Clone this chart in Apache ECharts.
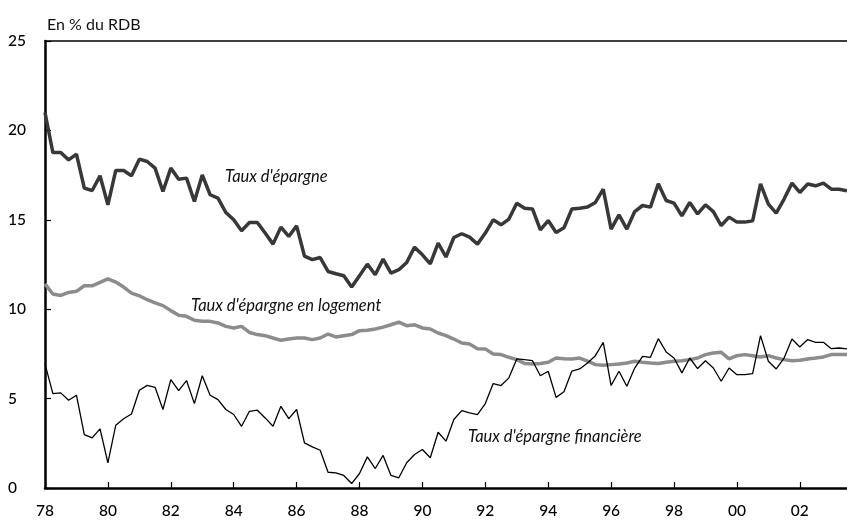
<!DOCTYPE html>
<html>
<head>
<meta charset="utf-8">
<script src="https://cdn.jsdelivr.net/npm/echarts@6/dist/echarts.min.js"></script>
<style>
  html, body { margin: 0; padding: 0; background: #fff; }
  #chart { width: 847px; height: 525px; }
</style>
</head>
<body>
<div id="chart"></div>
<script>
// trimestres 1978T1 .. 2003T3
const firstYear = 1978;
const nbQuarters = 103;

// taux d'épargne (en % du RDB)
const tauxEpargne = [
  21.0, 18.76, 18.76, 18.35, 18.67, 16.77, 16.64, 17.46, 15.84, 17.76,
  17.76, 17.46, 18.39, 18.26, 17.89, 16.58, 17.89, 17.27, 17.33, 16.02,
  17.51, 16.40, 16.21, 15.41, 15.0, 14.39, 14.85, 14.85, 14.26, 13.64,
  14.59, 14.07, 14.66, 12.97, 12.77, 12.89, 12.11, 11.98, 11.87, 11.24,
  11.87, 12.52, 11.93, 12.80, 12.02, 12.21, 12.61, 13.47, 13.04, 12.54,
  13.70, 12.92, 14.01, 14.22, 14.03, 13.64, 14.26, 15.0, 14.72, 15.04,
  15.93, 15.65, 15.61, 14.44, 14.96, 14.29, 14.55, 15.60, 15.65, 15.71,
  15.97, 16.71, 14.48, 15.28, 14.48, 15.46, 15.80, 15.71, 17.01, 16.08,
  15.93, 15.22, 15.97, 15.33, 15.84, 15.46, 14.68, 15.15, 14.87, 14.87,
  14.94, 17.01, 15.88, 15.37, 16.16, 17.05, 16.53, 17.0, 16.90, 17.05,
  16.71, 16.71, 16.62
];

// taux d'épargne en logement
const tauxLogement = [
  11.42, 10.85, 10.77, 10.94, 11.0, 11.31, 11.31, 11.50, 11.70, 11.52,
  11.24, 10.90, 10.75, 10.53, 10.35, 10.20, 9.92, 9.66, 9.60, 9.38,
  9.32, 9.32, 9.23, 9.04, 8.95, 9.04, 8.70, 8.58, 8.52, 8.39,
  8.26, 8.33, 8.39, 8.39, 8.30, 8.39, 8.61, 8.45, 8.52, 8.58,
  8.80, 8.82, 8.89, 9.00, 9.13, 9.28, 9.08, 9.13, 8.95, 8.89,
  8.67, 8.52, 8.33, 8.11, 8.05, 7.79, 7.78, 7.50, 7.46, 7.31,
  7.18, 6.96, 6.94, 6.96, 7.03, 7.27, 7.23, 7.22, 7.27, 7.09,
  6.90, 6.86, 6.90, 6.94, 6.99, 7.09, 7.03, 6.99, 6.96, 7.03,
  7.09, 7.12, 7.18, 7.27, 7.46, 7.55, 7.59, 7.22, 7.40, 7.46,
  7.40, 7.33, 7.40, 7.27, 7.18, 7.12, 7.14, 7.22, 7.27, 7.33,
  7.46, 7.46, 7.46
];

// taux d'épargne financière
const tauxFinanciere = [
  6.94, 5.28, 5.32, 4.91, 5.19, 2.99, 2.80, 3.31, 1.41, 3.51,
  3.87, 4.14, 5.47, 5.74, 5.63, 4.39, 6.06, 5.45, 6.01, 4.72,
  6.28, 5.19, 4.94, 4.39, 4.11, 3.45, 4.29, 4.35, 3.92, 3.45,
  4.57, 3.88, 4.39, 2.52, 2.30, 2.11, 0.88, 0.85, 0.70, 0.25,
  0.81, 1.74, 1.09, 1.82, 0.70, 0.57, 1.41, 1.87, 2.15, 1.69,
  3.12, 2.62, 3.83, 4.33, 4.20, 4.11, 4.72, 5.84, 5.73, 6.16,
  7.22, 7.18, 7.12, 6.28, 6.53, 5.07, 5.38, 6.53, 6.66, 6.99,
  7.40, 8.15, 5.73, 6.53, 5.69, 6.71, 7.36, 7.31, 8.35, 7.61,
  7.27, 6.44, 7.27, 6.68, 7.12, 6.71, 5.97, 6.71, 6.34, 6.34,
  6.40, 8.52, 7.09, 6.66, 7.27, 8.33, 7.89, 8.30, 8.15, 8.15,
  7.79, 7.83, 7.78
];

const yTicks = [0, 5, 10, 15, 20, 25];

// libellés des trimestres
const quarters = [];
for (let i = 0; i < nbQuarters; i++) {
  quarters.push((firstYear + Math.floor(i / 4)) + 'T' + (i % 4 + 1));
}

const FONT = 'Lato, "DejaVu Sans", sans-serif';

const chart = echarts.init(document.getElementById('chart'));

const option = {
  animation: false,
  backgroundColor: '#fff',
  grid: { left: 45, right: 0, top: 41, bottom: 37 },
  xAxis: [
    {
      type: 'category',
      data: quarters,
      boundaryGap: false,
      axisLine: { lineStyle: { color: '#000', width: 2.5 } },
      axisTick: {
        inside: true, length: 6, interval: (i) => i % 8 === 0,
        lineStyle: { color: '#000', width: 1.2 }
      },
      axisLabel: {
        interval: (i) => i % 8 === 0,
        margin: 15,
        color: '#000',
        fontFamily: FONT,
        fontSize: 15.5,
        fontWeight: 500,
        formatter: (v) => v.slice(2, 4)
      },
      splitLine: { show: false }
    },
    {
      // trait du haut du cadre
      type: 'category',
      data: quarters,
      position: 'top',
      boundaryGap: false,
      axisLine: { lineStyle: { color: '#000', width: 1.5 } },
      axisTick: { show: false },
      axisLabel: { show: false }
    }
  ],
  yAxis: {
    type: 'value',
    min: 0,
    max: 25,
    interval: 5,
    axisLine: { show: true, lineStyle: { color: '#000', width: 2.5 } },
    axisTick: { show: true, inside: true, length: 6, lineStyle: { color: '#000', width: 1.2 } },
    axisLabel: {
      align: 'left',
      margin: 37,
      color: '#000',
      fontFamily: FONT,
      fontSize: 15.5,
      fontWeight: 500,
      formatter: (v) => yTicks.includes(v) ? String(v) : ''
    },
    splitLine: { show: false }
  },
  series: [
    {
      name: "Taux d'épargne en logement",
      type: 'line',
      data: tauxLogement,
      symbol: 'none',
      lineStyle: { color: '#8c8c8c', width: 3.5 }
    },
    {
      name: "Taux d'épargne financière",
      type: 'line',
      data: tauxFinanciere,
      symbol: 'none',
      lineStyle: { color: '#000', width: 1.3 }
    },
    {
      name: "Taux d'épargne",
      type: 'line',
      data: tauxEpargne,
      symbol: 'none',
      lineStyle: { color: '#383838', width: 3.5 }
    }
  ],
  graphic: [
    { type: 'text', left: 47, top: 17, style: { text: 'En % du RDB', fill: '#111', font: '16px ' + FONT } },
    { type: 'text', left: 225, top: 168, style: { text: "Taux d'épargne", fill: '#111', font: 'italic 16.5px ' + FONT } },
    { type: 'text', left: 191, top: 297, style: { text: "Taux d'épargne en logement", fill: '#111', font: 'italic 16.5px ' + FONT } },
    { type: 'text', left: 468, top: 428, style: { text: "Taux d'épargne financière", fill: '#111', font: 'italic 16.5px ' + FONT } }
  ]
};

chart.setOption(option);
</script>
</body>
</html>
